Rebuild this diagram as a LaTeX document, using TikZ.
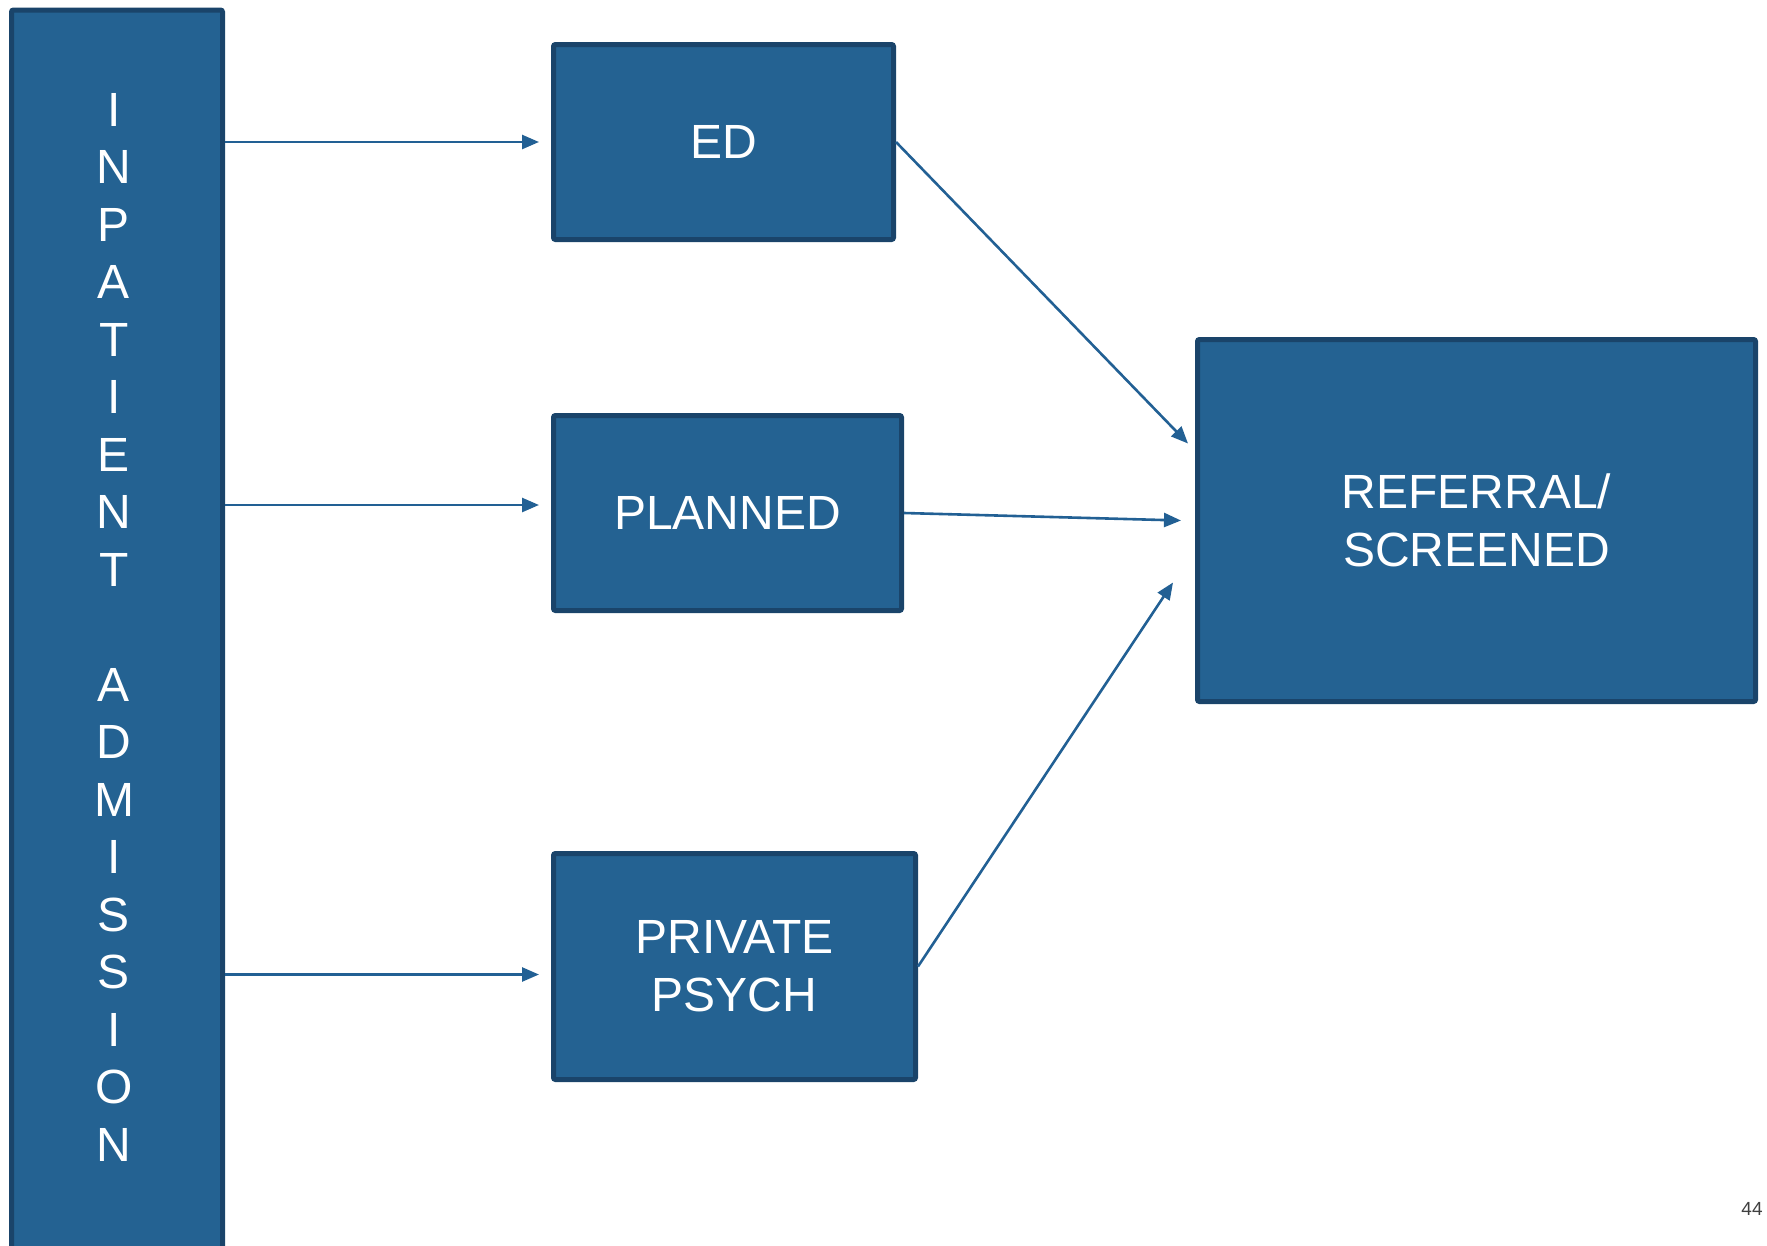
\documentclass[tikz,border=0pt]{standalone}
\usepackage{fontspec}
\setmainfont{Liberation Sans}
\usetikzlibrary{arrows.meta,calc}
\definecolor{boxfill}{RGB}{36,98,146}
\definecolor{boxedge}{RGB}{26,68,106}
\definecolor{linkblue}{RGB}{34,96,148}
\definecolor{pagegrey}{RGB}{64,64,64}
\begin{document}
\begin{tikzpicture}[x=1pt,y=-1pt,
  stagebox/.style={draw=boxedge,fill=boxfill,line width=5pt,rounded corners=2pt,
    text=white,align=center,inner sep=0pt,
    font=\fontsize{48}{58}\selectfont},
  link/.style={draw=linkblue,line width=2.6pt,
    -{Triangle[length=17pt,width=14pt]}}]
  \useasboundingbox (0,0) rectangle (1767,1245);

  % admission column, running off the bottom edge
  \begin{scope}
    \clip (0,0) rectangle (1767,1245);
    \node[stagebox,minimum width=211pt,minimum height=1260pt,anchor=north west]
      (adm) at (9,7.5) {};
  \end{scope}
  \node[text=white,align=center,inner sep=0pt,
        font=\fontsize{48}{57.5}\selectfont] (admtxt) at (114,627)
    {I\\N\\P\\A\\T\\I\\E\\N\\T\\~\\A\\D\\M\\I\\S\\S\\I\\O\\N};

  % admission routes
  \node[stagebox,minimum width=340pt,minimum height=195pt] (ed) at (723.5,142) {ED};
  \node[stagebox,minimum width=348pt,minimum height=195pt] (planned) at (727.5,513) {PLANNED};
  \node[stagebox,minimum width=362pt,minimum height=226pt] (psych) at (734.5,966.5) {PRIVATE\\PSYCH};
  \node[stagebox,minimum width=558pt,minimum height=362pt] (ref) at (1476.5,520.5) {REFERRAL/\\SCREENED};

  % arrow targets just short of the referral box
  \coordinate (t1) at ($(ref.west)+(-7,-77)$);
  \coordinate (t2) at ($(ref.west)+(-14,0)$);
  \coordinate (t3) at ($(ref.west)+(-22,62)$);

  \draw[link] (adm.east |- ed.west) -- ($(ed.west)+(-12,0)$);
  \draw[link] ($(adm.east |- planned.west)+(0,-8)$) -- ($(planned.west)+(-12,-8)$);
  \draw[link] ($(adm.east |- psych.west)+(0,8)$) -- ($(psych.west)+(-12,8)$);

  \draw[link] (ed.east) -- (t1);
  \draw[link] (planned.east) -- (t2);
  \draw[link] (psych.east) -- (t3);

  \node[text=pagegrey,font=\fontsize{19}{22}\selectfont,inner sep=0pt] (pg) at (1752,1209) {44};
\end{tikzpicture}
\end{document}
